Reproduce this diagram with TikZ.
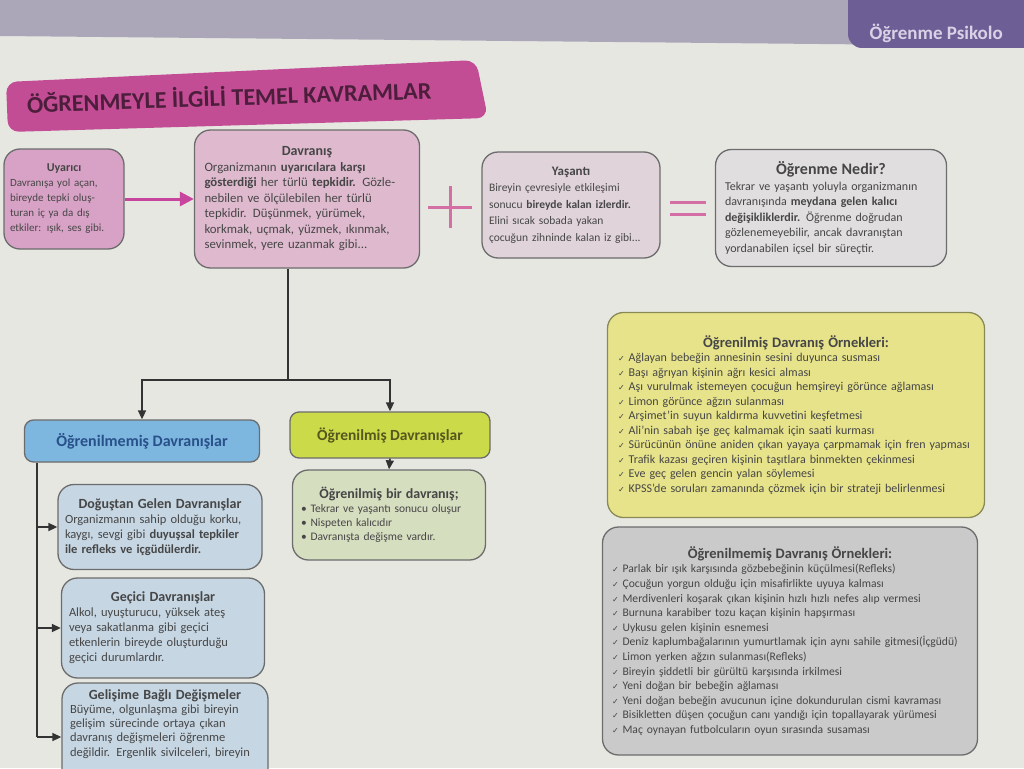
\documentclass[tikz,border=0pt]{standalone}
\usepackage{fontspec}
\setmainfont{Carlito}
\newfontfamily\symfont{DejaVu Sans}
\usetikzlibrary{arrows.meta,calc}
\definecolor{pagec}{HTML}{E7E7E2}
\definecolor{bandc}{HTML}{ABA7B8}
\definecolor{tabc}{HTML}{6E5E96}
\definecolor{tabtxt}{HTML}{D9D2E6}
\definecolor{hdrc}{HTML}{C24D94}
\definecolor{hdrtxt}{HTML}{4C1E3C}
\definecolor{uyac}{HTML}{D8A2C6}
\definecolor{davc}{HTML}{DFBACF}
\definecolor{yasc}{HTML}{E0D4DA}
\definecolor{nedc}{HTML}{E0DEDE}
\definecolor{bhdr}{HTML}{7DB6DE}
\definecolor{btxt}{HTML}{28508A}
\definecolor{ghdr}{HTML}{CBDA48}
\definecolor{gtxt}{HTML}{55571E}
\definecolor{bboxc}{HTML}{C6D6E3}
\definecolor{gboxc}{HTML}{D6DEC0}
\definecolor{yboxc}{HTML}{E7E38B}
\definecolor{grboxc}{HTML}{CACACA}
\definecolor{bordc}{HTML}{6C6C6C}
\definecolor{txt}{HTML}{464646}
\definecolor{magc}{HTML}{C8459E}
\definecolor{plusc}{HTML}{D46FA6}
\definecolor{linec}{HTML}{333333}
\newcommand\ck{{\symfont\fontsize{8}{8}\selectfont\char"2713}\ }
\newcommand\btitle[2][14]{{\centering\bfseries\fontsize{#1}{17}\selectfont #2\par}\raggedright}
\begin{document}
\begin{tikzpicture}[x=1pt,y=-1pt,
  box/.style={draw=bordc,line width=1.3pt,rounded corners=16pt,
    font=\fontsize{12.5}{15}\selectfont,text=txt,inner sep=0pt},
  hbox/.style={draw=bordc,line width=1.3pt,rounded corners=9pt,inner sep=0pt},
  conn/.style={draw=linec,line width=1.6pt},
  tip/.style={-{Triangle[length=9pt,width=8pt]}}]
\useasboundingbox (0,0) rectangle (1024,768);
\fill[pagec] (0,0) rectangle (1024,768);
\fill[bandc] (0,0) -- (1024,0) -- (1024,46) -- (0,36) -- cycle;
\fill[tabc,rounded corners=14pt] (848,-30) -- (848,48) -- (1060,48) -- (1060,-30) -- cycle;
\node[anchor=west,text=tabtxt,font=\bfseries\fontsize{19}{19}\selectfont] (tabt) at (866,33) {Öğrenme Psikolo};

% header banner
\fill[hdrc,rounded corners=11pt] (6,82) -- (476,60) -- (488,118) -- (8,132) -- cycle;
\node[rotate=2,text=hdrtxt,font=\bfseries\fontsize{24}{24}\selectfont] (title) at (229,96) {ÖĞRENMEYLE İLGİLİ TEMEL KAVRAMLAR};

% top row
\node[box,fill=uyac,minimum width=120pt,minimum height=100pt,text width=108pt,font=\fontsize{11}{15}\selectfont] (uya) at (64,199)
 {\btitle[12]{Uyarıcı}Davranışa yol açan,\\ bireyde tepki oluş-\\turan iç ya da dış\\ etkiler: ışık, ses gibi.};
\node[box,fill=davc,minimum width=225pt,minimum height=138pt,text width=205pt,font=\fontsize{12.8}{15.5}\selectfont] (dav) at (307,199)
 {\btitle{Davranış}Organizmanın \textbf{uyarıcılara karşı}\\ \textbf{gösterdiği} her türlü \textbf{tepkidir.} Gözle-\\nebilen ve ölçülebilen her türlü\\ tepkidir. Düşünmek, yürümek,\\ korkmak, uçmak, yüzmek, ıkınmak,\\ sevinmek, yere uzanmak gibi...};
\node[box,fill=yasc,minimum width=178pt,minimum height=106pt,text width=164pt,font=\fontsize{11.5}{16.5}\selectfont] (yas) at (571,205)
 {\btitle[13]{Yaşantı}Bireyin çevresiyle etkileşimi\\ sonucu \textbf{bireyde kalan izlerdir.}\\ Elini sıcak sobada yakan\\ çocuğun zihninde kalan iz gibi...};
\node[box,fill=nedc,minimum width=231pt,minimum height=117pt,text width=212pt,font=\fontsize{12}{15.5}\selectfont] (ned) at (831,208)
 {{\centering\bfseries\fontsize{16}{20}\selectfont Öğrenme Nedir?\par}\raggedright Tekrar ve yaşantı yoluyla organizmanın\\ davranışında \textbf{meydana gelen kalıcı}\\ \textbf{değişikliklerdir.} Öğrenme doğrudan\\ gözlenemeyebilir, ancak davranıştan\\ yordanabilen içsel bir süreçtir.};

% plus and equals
\draw[plusc,line width=3pt] (428,207) -- (472,207) (450,186) -- (450,228);
\draw[plusc,line width=3pt] (670,202) -- (706,202) (670,214) -- (706,214);
\draw[magc,line width=3pt,-{Triangle[length=14pt,width=14pt]}] (uya.east) -- (dav.west);

% second level
\node[hbox,fill=bhdr,minimum width=235pt,minimum height=42pt,text=btxt,font=\bfseries\fontsize{16}{16}\selectfont] (unl) at (142,441) {Öğrenilmemiş Davranışlar};
\node[hbox,fill=ghdr,minimum width=200pt,minimum height=46pt,text=gtxt,font=\bfseries\fontsize{15.5}{16}\selectfont] (lrn) at (390,435) {Öğrenilmiş Davranışlar};

\coordinate (j) at (288,380);
\draw[conn] (dav.south -| j) -- (j);
\draw[conn,tip] (j) -| (unl.north);
\draw[conn,tip] (j) -| (lrn.north);

\node[box,fill=gboxc,minimum width=193pt,minimum height=90pt,text width=176pt,font=\fontsize{11.5}{14}\selectfont] (lrb) at (389,515)
 {\btitle[14]{Öğrenilmiş bir davranış;}\textbullet\ Tekrar ve yaşantı sonucu oluşur\\ \textbullet\ Nispeten kalıcıdır\\ \textbullet\ Davranışta değişme vardır.};
\draw[conn,tip] (lrn.south) -- (lrb.north);

\node[box,fill=bboxc,minimum width=204pt,minimum height=85pt,text width=190pt] (dog) at (160,527)
 {\btitle{Doğuştan Gelen Davranışlar}Organizmanın sahip olduğu korku,\\ kaygı, sevgi gibi \textbf{duyuşsal tepkiler}\\ \textbf{ile refleks ve içgüdülerdir.}};
\node[box,fill=bboxc,minimum width=203pt,minimum height=100pt,text width=188pt] (gec) at (163,628)
 {\btitle{Geçici Davranışlar}Alkol, uyuşturucu, yüksek ateş\\ veya sakatlanma gibi geçici\\ etkenlerin bireyde oluşturduğu\\ geçici durumlardır.};
\node[box,fill=bboxc,minimum width=206pt,minimum height=108pt] (gel) at (165,737) {};
\node[anchor=north,text=txt,inner sep=0pt,text width=190pt,font=\fontsize{12.5}{14.3}\selectfont] (gelt) at (165,689)
 {\btitle{Gelişime Bağlı Değişmeler}Büyüme, olgunlaşma gibi bireyin\\ gelişim sürecinde ortaya çıkan\\ davranış değişmeleri öğrenme\\ değildir. Ergenlik sivilceleri, bireyin};

\coordinate (v0) at ($(unl.south west)+(13,0)$);
\draw[conn] (v0) -- (v0 |- gel.west);
\draw[conn,tip] (v0 |- dog.west) -- (dog.west);
\draw[conn,tip] (v0 |- gec.west) -- (gec.west);
\draw[conn,tip] (v0 |- gel.west) -- (gel.west);

% example boxes
\node[box,fill=yboxc,draw=bordc!80!yellow,minimum width=377pt,minimum height=205pt,text width=356pt,font=\fontsize{12}{14.5}\selectfont] (yel) at (796,415)
 {{\centering\bfseries\fontsize{14.5}{18}\selectfont Öğrenilmiş Davranış Örnekleri:\par}\raggedright
 \ck Ağlayan bebeğin annesinin sesini duyunca susması\\
 \ck Başı ağrıyan kişinin ağrı kesici alması\\
 \ck Aşı vurulmak istemeyen çocuğun hemşireyi görünce ağlaması\\
 \ck Limon görünce ağzın sulanması\\
 \ck Arşimet'in suyun kaldırma kuvvetini keşfetmesi\\
 \ck Ali'nin sabah işe geç kalmamak için saati kurması\\
 \ck Sürücünün önüne aniden çıkan yayaya çarpmamak için fren yapması\\
 \ck Trafik kazası geçiren kişinin taşıtlara binmekten çekinmesi\\
 \ck Eve geç gelen gencin yalan söylemesi\\
 \ck KPSS'de soruları zamanında çözmek için bir strateji belirlenmesi};
\node[box,fill=grboxc,minimum width=375pt,minimum height=228pt,text width=356pt,font=\fontsize{11.6}{14.6}\selectfont] (gry) at (790,641)
 {{\centering\bfseries\fontsize{14.5}{18}\selectfont Öğrenilmemiş Davranış Örnekleri:\par}\raggedright
 \ck Parlak bir ışık karşısında gözbebeğinin küçülmesi(Refleks)\\
 \ck Çocuğun yorgun olduğu için misafirlikte uyuya kalması\\
 \ck Merdivenleri koşarak çıkan kişinin hızlı hızlı nefes alıp vermesi\\
 \ck Burnuna karabiber tozu kaçan kişinin hapşırması\\
 \ck Uykusu gelen kişinin esnemesi\\
 \ck Deniz kaplumbağalarının yumurtlamak için aynı sahile gitmesi(İçgüdü)\\
 \ck Limon yerken ağzın sulanması(Refleks)\\
 \ck Bireyin şiddetli bir gürültü karşısında irkilmesi\\
 \ck Yeni doğan bir bebeğin ağlaması\\
 \ck Yeni doğan bebeğin avucunun içine dokundurulan cismi kavraması\\
 \ck Bisikletten düşen çocuğun canı yandığı için topallayarak yürümesi\\
 \ck Maç oynayan futbolcuların oyun sırasında susaması};
\end{tikzpicture}
\end{document}
